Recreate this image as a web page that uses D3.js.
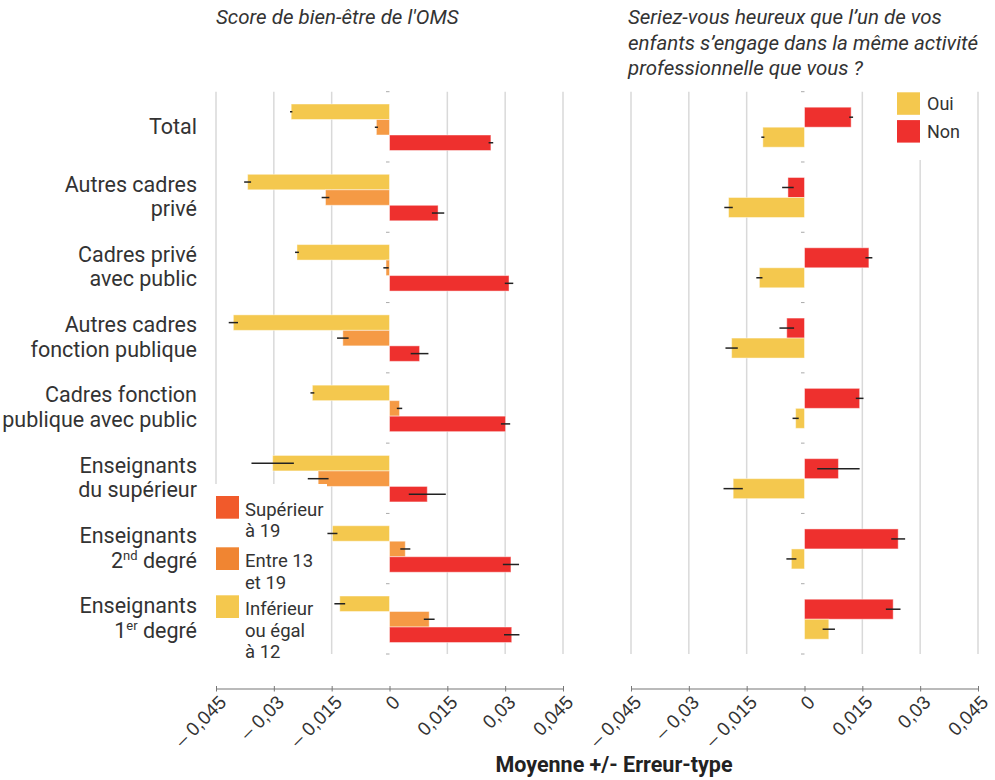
<!DOCTYPE html>
<html>
<head>
<meta charset="utf-8">
<script src="https://cdn.jsdelivr.net/npm/d3@7"></script>
<style>
  body { margin: 0; background: #fff; }
  svg { font-family: Roboto, "Open Sans", sans-serif; }
</style>
</head>
<body>
<svg id="chart"></svg>
<script>
let w = 995;
let h = 780;

// categories (lines split by |, superscript between { })
const categories = [
  'Total',
  'Autres cadres|privé',
  'Cadres privé|avec public',
  'Autres cadres|fonction publique',
  'Cadres fonction|publique avec public',
  'Enseignants|du supérieur',
  'Enseignants|2{nd} degré',
  'Enseignants|1{er} degré'
];

// left panel: score de bien-être, by size of class
const supValues = [0.0263, 0.0126, 0.0310, 0.0078, 0.0301, 0.0098, 0.0315, 0.0317];
const supErrors = [0.0006, 0.0016, 0.0011, 0.0023, 0.0012, 0.0048, 0.0021, 0.0020];
const entreValues = [-0.0034, -0.0166, -0.0009, -0.0121, 0.0026, -0.0185, 0.0041, 0.0103];
const entreErrors = [0.0004, 0.0010, 0.0007, 0.0015, 0.0007, 0.0027, 0.0013, 0.0014];
const infValues = [-0.0255, -0.0368, -0.0240, -0.0405, -0.0200, -0.0303, -0.0148, -0.0129];
const infErrors = [0.0003, 0.0009, 0.0005, 0.0012, 0.0005, 0.0055, 0.0013, 0.0014];

// right panel: heureux que l'enfant fasse le même métier
const nonValues = [0.0121, -0.0043, 0.0167, -0.0046, 0.0143, 0.0088, 0.0243, 0.0230];
const nonErrors = [0.0005, 0.0015, 0.0009, 0.0019, 0.0010, 0.0055, 0.0018, 0.0019];
const ouiValues = [-0.0108, -0.0197, -0.0117, -0.0189, -0.0023, -0.0185, -0.0034, 0.0063];
const ouiErrors = [0.0004, 0.0011, 0.0008, 0.0016, 0.0008, 0.0025, 0.0013, 0.0016];

const tickValues = [-0.045, -0.03, -0.015, 0, 0.015, 0.03, 0.045];
const tickLabels = ['– 0,045', '– 0,03', '– 0,015', '0', '0,015', '0,03', '0,045'];

const leftSeries = ['Inférieur ou égal à 12', 'Entre 13 et 19', 'Supérieur à 19'];
const rightSeries = ['Non', 'Oui'];

const yellow = '#f4c84e';
const orange = '#f59a45';
const red = '#ee302e';
const textColor = '#333';

const svg = d3.select('#chart')
  .attr('width', w)
  .attr('height', h);

const y0 = d3.scaleBand()
  .domain(categories)
  .range([91.7, 654]);

const xL = d3.scaleLinear().domain([-0.045, 0.045]).range([216, 563]);
const xR = d3.scaleLinear().domain([-0.045, 0.045]).range([631, 978]);

const yL = d3.scaleBand().domain(leftSeries).range([12.3, 58.8]);
const yR = d3.scaleBand().domain(rightSeries).range([15.5, 55.5]);

function panel(x, ySub, series) {
  const g = svg.append('g');

  // grid
  g.selectAll('line.grid')
    .data(tickValues.filter(d => d !== 0))
    .enter()
    .append('line')
    .attr('x1', d => x(d)).attr('x2', d => x(d))
    .attr('y1', y0.range()[0]).attr('y2', y0.range()[1])
    .attr('stroke', '#d9d9d9')
    .attr('stroke-width', 1.5);

  // small ticks on zero line at band edges
  const edges = categories.map(c => y0(c)).concat([y0.range()[1]]);
  g.selectAll('line.ytick')
    .data(edges)
    .enter()
    .append('line')
    .attr('x1', x(0) - 3.5).attr('x2', x(0))
    .attr('y1', d => d).attr('y2', d => d)
    .attr('stroke', '#aaa')
    .attr('stroke-width', 1);

  series.forEach(s => {
    g.selectAll(null)
      .data(s.values)
      .enter()
      .append('rect')
      .attr('x', d => Math.min(x(0), x(d)))
      .attr('width', d => Math.abs(x(d) - x(0)))
      .attr('y', (d, i) => y0(categories[i]) + ySub(s.name))
      .attr('height', ySub.bandwidth())
      .attr('fill', s.color)
      .attr('stroke', 'rgba(255,255,255,0.45)')
      .attr('stroke-width', 1);
  });

  series.forEach(s => {
    g.selectAll(null)
      .data(s.values)
      .enter()
      .append('line')
      .attr('x1', (d, i) => x(d - s.errors[i]))
      .attr('x2', (d, i) => x(d + s.errors[i]))
      .attr('y1', (d, i) => y0(categories[i]) + ySub(s.name) + ySub.bandwidth() / 2)
      .attr('y2', (d, i) => y0(categories[i]) + ySub(s.name) + ySub.bandwidth() / 2)
      .attr('stroke', '#222')
      .attr('stroke-width', 1.5);
  });

  // bottom axis
  const axis = d3.axisBottom(x)
    .tickValues(tickValues)
    .tickSize(0)
    .tickFormat((d, i) => tickLabels[i]);

  const ax = svg.append('g')
    .attr('transform', 'translate(0,688.5)')
    .call(axis);
  ax.select('.domain').attr('stroke', '#777').attr('stroke-width', 1.2);
  ax.selectAll('.tick')
    .append('line')
    .attr('y1', -2.5).attr('y2', 3)
    .attr('stroke', '#777');
  ax.selectAll('.tick text')
    .attr('x', 0).attr('y', 0).attr('dy', 0)
    .attr('transform', 'translate(11,15) rotate(-45)')
    .attr('text-anchor', 'end')
    .attr('fill', textColor)
    .style('font-size', '19px');
  return g;
}

panel(xL, yL, [
  { name: leftSeries[0], values: infValues, errors: infErrors, color: yellow },
  { name: leftSeries[1], values: entreValues, errors: entreErrors, color: orange },
  { name: leftSeries[2], values: supValues, errors: supErrors, color: red }
]);

panel(xR, yR, [
  { name: rightSeries[0], values: nonValues, errors: nonErrors, color: red },
  { name: rightSeries[1], values: ouiValues, errors: ouiErrors, color: yellow }
]);

// category labels
const catLabels = svg.append('g')
  .attr('fill', textColor)
  .style('font-size', '21.5px')
  .attr('text-anchor', 'end');

categories.forEach(c => {
  const lines = c.split('|');
  const mid = y0(c) + y0.bandwidth() / 2;
  const start = lines.length === 1 ? mid + 7 : mid - 5.5;
  lines.forEach((line, j) => {
    const t = catLabels.append('text')
      .attr('x', 197)
      .attr('y', start + j * 24.5);
    const m = line.match(/^(.*?)\{(.*?)\}(.*)$/);
    if (m) {
      t.append('tspan').text(m[1]);
      t.append('tspan').text(m[2]).attr('dy', -8).style('font-size', '13px');
      t.append('tspan').text(m[3]).attr('dy', 8);
    } else {
      t.text(line);
    }
  });
});

// titles
svg.append('text')
  .attr('x', 216).attr('y', 24)
  .attr('fill', textColor)
  .style('font-size', '20.5px')
  .style('font-style', 'italic')
  .text("Score de bien-être de l'OMS");

const rightTitle = ['Seriez-vous heureux que l’un de vos',
  'enfants s’engage dans la même activité',
  'professionnelle que vous ?'];
svg.append('text')
  .attr('fill', textColor)
  .style('font-size', '20.5px')
  .style('font-style', 'italic')
  .selectAll('tspan')
  .data(rightTitle)
  .enter()
  .append('tspan')
  .attr('x', 628)
  .attr('y', (d, i) => 24 + i * 25.5)
  .text(d => d);

// axis title
svg.append('text')
  .attr('x', 614).attr('y', 771.5)
  .attr('text-anchor', 'middle')
  .attr('fill', '#222')
  .style('font-size', '21.5px')
  .style('font-weight', 'bold')
  .text('Moyenne +/- Erreur-type');

// left legend
const legendLeft = [
  { lines: ['Supérieur', 'à 19'], color: '#f15a2b' },
  { lines: ['Entre 13', 'et 19'], color: '#f08532' },
  { lines: ['Inférieur', 'ou égal', 'à 12'], color: yellow }
];
const legendTops = [496, 547.3, 595.3];
const lg = svg.append('g');
lg.append('rect')
  .attr('x', 207).attr('y', 484)
  .attr('width', 120).attr('height', 172)
  .attr('fill', '#fff');
legendLeft.forEach((d, i) => {
  lg.append('rect')
    .attr('x', 216).attr('y', legendTops[i])
    .attr('width', 23).attr('height', 22.7)
    .attr('fill', d.color);
  d.lines.forEach((line, j) => {
    lg.append('text')
      .attr('x', 245)
      .attr('y', legendTops[i] + 20 + j * 21.2)
      .attr('fill', textColor)
      .style('font-size', '18.5px')
      .text(line);
  });
});

// right legend
const legendRight = [
  { label: 'Oui', color: yellow },
  { label: 'Non', color: red }
];
const rg = svg.append('g');
rg.append('rect')
  .attr('x', 888).attr('y', 90)
  .attr('width', 86).attr('height', 70)
  .attr('fill', '#fff');
legendRight.forEach((d, i) => {
  rg.append('rect')
    .attr('x', 897).attr('y', 92.3 + i * 27.8)
    .attr('width', 23).attr('height', 22.5)
    .attr('fill', d.color);
  rg.append('text')
    .attr('x', 927).attr('y', 110 + i * 27.8)
    .attr('fill', textColor)
    .style('font-size', '18px')
    .text(d.label);
});
</script>
</body>
</html>
